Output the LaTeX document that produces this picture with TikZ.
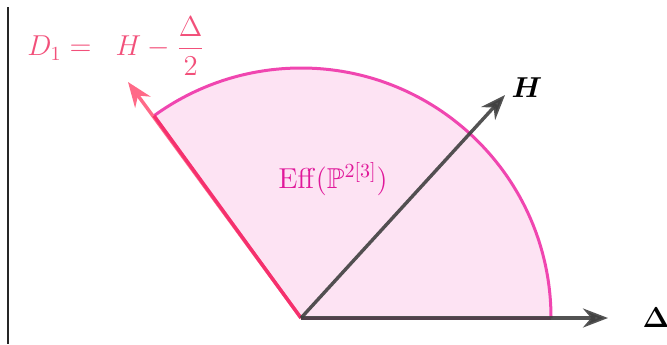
\documentclass[tikz,border=0pt]{standalone}
\usepackage{amsmath}
\usepackage{amssymb}
\usepackage{bm}
\usepackage{xcolor}
\usetikzlibrary{arrows.meta, calc}
\definecolor{conefill}{HTML}{FDE3F3}
\definecolor{conearc}{HTML}{F046B0}
\definecolor{coneedge}{HTML}{F5306E}
\definecolor{droot}{HTML}{FF6A88}
\definecolor{dlabel}{HTML}{F2507A}
\definecolor{efftext}{HTML}{E0189A}
\definecolor{axisgray}{HTML}{404040}
\newcommand{\Effcone}{\mathrm{Eff}(\mathbb{P}^{2[3]})}

\begin{document}
\begin{tikzpicture}[
    x=0.5pt, y=0.5pt,
    font=\Large,
    >={Stealth[length=12.5pt,width=9.5pt]},
    every node/.style={inner sep=1pt},
    axis/.style={->, line width=1.7pt, draw=axisgray, opacity=0.9},
    rootray/.style={->, line width=1.7pt, draw=droot},
    rim/.style={line width=1.5pt, draw=conearc},
    axislabel/.style={font=\Large}
  ]
  \useasboundingbox (0,0) rectangle (667,344);

  % ===== FRAME EDGE =====
  \coordinate (frametop) at (7.5,337);
  \coordinate (framebot) at (7.5,0);
  \draw[line width=1pt, black!85] (frametop) -- (framebot);

  % ===== CONE =====
  \coordinate (O) at (301,26);
  \coordinate (rimD) at ($(O)+(126:250)$);
  \coordinate (rimX) at ($(O)+(250,0)$);
  \fill[conefill] (O) -- (rimX) arc[start angle=0, end angle=126, radius=250] -- cycle;
  \draw[rim] (rimX) arc[start angle=0, end angle=126, radius=250];
  \draw[rim] (O) -- (rimX);

  % D_1 ray: stronger edge inside, arrow beyond
  \coordinate (dtip) at (128,262);
  \draw[rootray] (O) -- (dtip);
  \draw[line width=1.7pt, coneedge] (O) -- (rimD);

  % ===== AXES =====
  \coordinate (htip) at (505,249);
  \coordinate (deltatip) at (608,26);
  \draw[axis] (O) -- (htip);
  \draw[axis] (O) -- (deltatip);

  % ===== LABELS =====
  \node[axislabel] (hlab) at (527,256) {$\bm{H}$};
  \node[axislabel] (deltalab) at (656,26) {$\bm{\Delta}$};
  \node[text=efftext] (efflab) at (333,165) {$\Effcone$};
  \node[text=dlabel] (dlab) at (116,298) {$D_1 = \;\; H - \dfrac{\Delta}{2}$};

\end{tikzpicture}
\end{document}
